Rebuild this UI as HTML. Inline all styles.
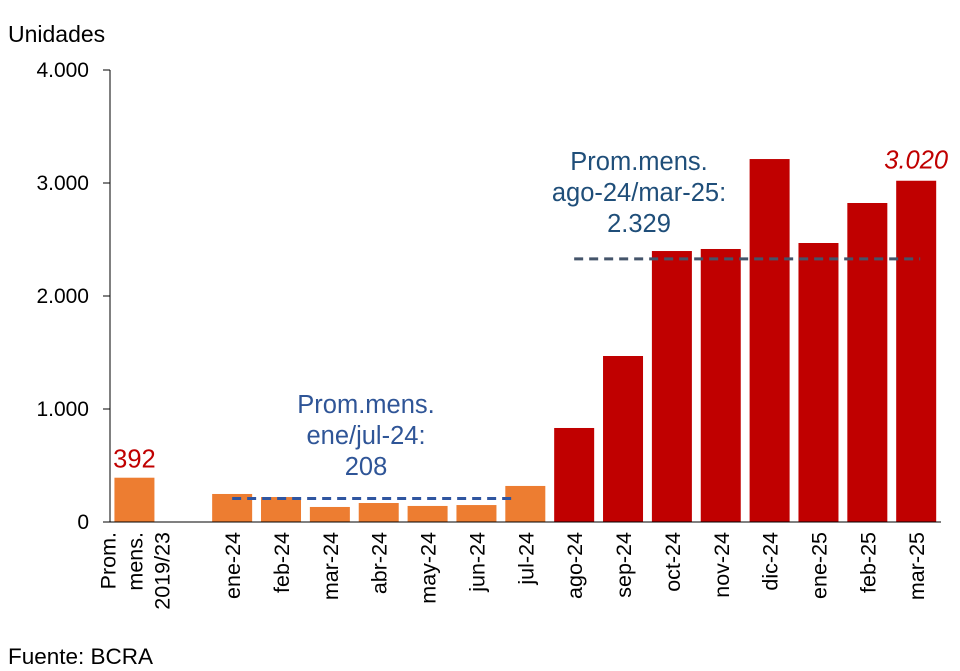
<!DOCTYPE html>
<html><head><meta charset="utf-8"><style>
html,body{margin:0;padding:0;background:#fff;}
svg{display:block;font-family:"Liberation Sans",Roboto,sans-serif;}
</style></head><body>
<svg id="chart" width="960" height="671" viewBox="0 0 960 671" xmlns="http://www.w3.org/2000/svg"></svg>
<script>
const categories=["Prom.|mens.|2019/23","","ene-24","feb-24","mar-24","abr-24","may-24","jun-24","jul-24","ago-24","sep-24","oct-24","nov-24","dic-24","ene-25","feb-25","mar-25"];
const values=[392,null,248,221,133,168,142,150,319,832,1469,2398,2416,3212,2469,2823,3020];
const yTicks=[0,1000,2000,3000,4000];
const yTickLabels=["0","1.000","2.000","3.000","4.000"];
const avg1=208, avg2=2329;

const svg=document.getElementById('chart');
const NS='http://www.w3.org/2000/svg';
const x0=110, slot=48.86, y0=522, yMax=4000, yTop=70;
function y(v){return y0-(v/yMax)*(y0-yTop);}
function xc(i){return x0+slot*(i+0.5);}
function mk(tag,attrs,text){const e=document.createElementNS(NS,tag);for(const k in attrs)e.setAttribute(k,attrs[k]);if(text!=null)e.textContent=text;svg.appendChild(e);return e;}

let t=mk('text',{x:8,y:42,'font-size':23,fill:'#000'},'Unidades');



yTicks.forEach((v,i)=>{
  const l=mk('line',{x1:103,x2:110,y1:y(v),y2:y(v),stroke:'#000','stroke-width':1});
  
  
  const tx=mk('text',{x:89,y:y(v)+7,'font-size':21,'text-anchor':'end',fill:'#000'},yTickLabels[i]);
  
  
});
let ax=mk('line',{x1:110,x2:110,y1:70,y2:y0,stroke:'#000','stroke-width':1});



values.forEach((v,i)=>{
  if(v==null)return;
  const col=(i<=8)?'#ED7D31':'#C00000';
  const r=mk('rect',{x:xc(i)-20,y:y(v),width:40,height:y0-y(v),fill:col});
  
  
});
let bl=mk('line',{x1:110,x2:941,y1:y0,y2:y0,stroke:'#000','stroke-width':1});



categories.forEach((c,i)=>{
  if(!c)return;
  const parts=c.split('|');
  parts.forEach((p,j)=>{
    const off=(j-(parts.length-1)/2)*27;
    const xx=xc(i)+8+off;
    const tx=mk('text',{x:xx,y:532,'font-size':21.5,'text-anchor':'end',fill:'#000',transform:`rotate(-90 ${xx} 532)`},p);
    
    
  });
});

let d1=mk('line',{x1:xc(2),x2:xc(8)-9,y1:y(avg1),y2:y(avg1),stroke:'#2F55A0','stroke-width':3,'stroke-dasharray':'9 6'});


let d2=mk('line',{x1:xc(9),x2:xc(16)+4,y1:y(avg2),y2:y(avg2),stroke:'#44546A','stroke-width':3,'stroke-dasharray':'9 6'});



[["Prom.mens.",413],["ene/jul-24:",444],["208",475]].forEach(a=>{
  const tx=mk('text',{x:366,y:a[1],'font-size':25.5,'text-anchor':'middle',fill:'#2F5597'},a[0]);
  
  
});
[["Prom.mens.",170],["ago-24/mar-25:",201],["2.329",232]].forEach(a=>{
  const tx=mk('text',{x:639,y:a[1],'font-size':25.5,'text-anchor':'middle',fill:'#1F4E79'},a[0]);
  
  
});
let v1=mk('text',{x:xc(0),y:y(values[0])-10,'font-size':25.5,'text-anchor':'middle',fill:'#C00000'},'392');


let v2=mk('text',{x:xc(16),y:y(values[16])-12,'font-size':25.5,'text-anchor':'middle','font-style':'italic',fill:'#C00000'},'3.020');


let src=mk('text',{x:8,y:664,'font-size':22.5,fill:'#000'},'Fuente: BCRA');


</script>
</body></html>
